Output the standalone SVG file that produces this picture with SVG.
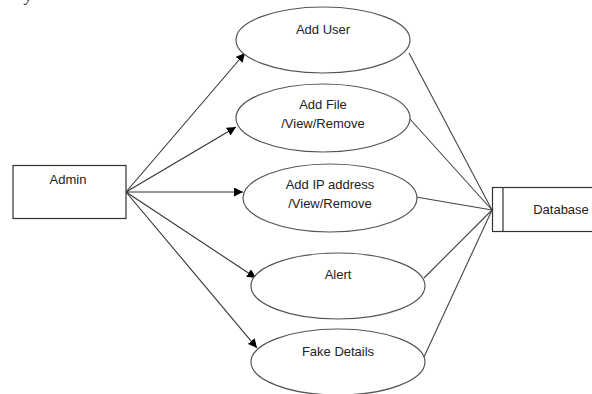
<svg xmlns="http://www.w3.org/2000/svg" width="592" height="394" viewBox="0 0 592 394">
<defs>
<style>
.lbl{font-family:"Liberation Sans",Arial,sans-serif;font-size:13px;fill:#222;text-anchor:middle}
.node{fill:#fff;stroke:#555;stroke-width:1.2}
.box{fill:#fff;stroke:#333;stroke-width:1.2}
.arr{stroke:#333;stroke-width:1.1;fill:none;marker-end:url(#ah)}
.ln{stroke:#444;stroke-width:1.1;fill:none}
</style>
<marker id="ah" viewBox="0 0 10 10" refX="10" refY="5" markerWidth="9" markerHeight="9" markerUnits="userSpaceOnUse" orient="auto">
<path d="M0,0 L10,5 L0,10 z" fill="#000"/>
</marker>
</defs>
<rect width="592" height="394" fill="#fff"/>
<text x="25" y="0.5" font-family="'Liberation Serif',serif" font-style="italic" font-size="16" fill="#222">y</text>
<g id="connectors">
<line class="arr" x1="126" y1="192" x2="245" y2="53"/>
<line class="arr" x1="126" y1="192" x2="236" y2="127"/>
<line class="arr" x1="126" y1="192" x2="243" y2="192"/>
<line class="arr" x1="126" y1="192" x2="256" y2="278"/>
<line class="arr" x1="126" y1="192" x2="257" y2="348"/>
<line class="ln" x1="409" y1="53" x2="492" y2="210"/>
<line class="ln" x1="409" y1="118" x2="492" y2="210"/>
<line class="ln" x1="416" y1="197" x2="492" y2="210"/>
<line class="ln" x1="424" y1="278" x2="492" y2="210"/>
<line class="ln" x1="424" y1="357" x2="492" y2="210"/>
</g>
<g id="admin">
<rect class="box" x="13" y="165.5" width="113" height="53"/>
<text class="lbl" x="68" y="184">Admin</text>
</g>
<g id="add-user">
<ellipse class="node" cx="323" cy="40" rx="87" ry="33"/>
<text class="lbl" x="323" y="34">Add User</text>
</g>
<g id="add-file">
<ellipse class="node" cx="323" cy="118" rx="87" ry="34"/>
<text class="lbl" x="323" y="109">Add File</text>
<text class="lbl" x="323" y="128">/View/Remove</text>
</g>
<g id="add-ip">
<ellipse class="node" cx="330" cy="198" rx="87" ry="34"/>
<text class="lbl" x="330" y="189">Add IP address</text>
<text class="lbl" x="330" y="208">/View/Remove</text>
</g>
<g id="alert">
<ellipse class="node" cx="338" cy="286" rx="87" ry="33"/>
<text class="lbl" x="338" y="279">Alert</text>
</g>
<g id="fake-details">
<ellipse class="node" cx="338" cy="362" rx="87" ry="33"/>
<text class="lbl" x="338" y="356">Fake Details</text>
</g>
<g id="database">
<rect class="box" x="492.5" y="187.5" width="110" height="44"/>
<line class="box" x1="503" y1="187.5" x2="503" y2="231.5"/>
<text class="lbl" x="561" y="214">Database</text>
</g>
</svg>
